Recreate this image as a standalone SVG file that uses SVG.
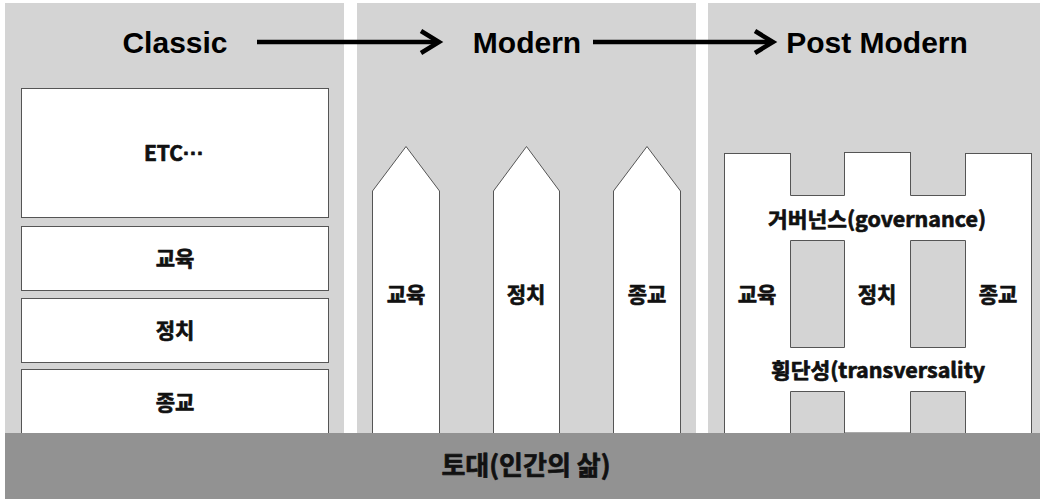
<svg xmlns="http://www.w3.org/2000/svg" width="1040" height="499" viewBox="0 0 1040 499">
<style>
.panel{fill:#d4d4d4}
.box{fill:#fff;stroke:#555;stroke-width:1}
.ko{font-family:"Noto Sans CJK KR","Noto Sans",sans-serif;font-weight:bold;fill:#111;stroke:#111;stroke-width:0.7;stroke-linejoin:round;text-anchor:middle;dominant-baseline:central}
.lbl{font-size:21px}
.title{font-family:"Liberation Sans",Arial,sans-serif;font-weight:bold;font-size:30px;fill:#000;text-anchor:middle}
.arrow{stroke:#000;stroke-width:4.5;fill:none}
.band{stroke:#555;stroke-width:1}
</style>
<rect x="0" y="0" width="1040" height="499" fill="#fff"/>
<g id="panels">
<rect class="panel" x="5" y="3" width="339" height="440"/>
<rect class="panel" x="357" y="3" width="339" height="440"/>
<rect class="panel" x="708" y="3" width="332" height="440"/>
</g>
<g id="titles">
<text class="title" x="175" y="53">Classic</text>
<text class="title" x="527" y="53">Modern</text>
<text class="title" x="877" y="53">Post Modern</text>
</g>
<g id="connectors">
<line class="arrow" x1="257" y1="42" x2="438" y2="42"/>
<polyline class="arrow" points="421,31 439,42 421,53" stroke-linejoin="miter"/>
<line class="arrow" x1="593" y1="42" x2="772" y2="42"/>
<polyline class="arrow" points="755,31 773,42 755,53" stroke-linejoin="miter"/>
</g>
<g id="classic">
<g id="c-etc"><rect class="box" x="21.5" y="88.5" width="307" height="129"/><text class="ko lbl" x="174" y="152">ETC<tspan font-family="Liberation Sans, sans-serif">···</tspan></text></g>
<g id="c-edu"><rect class="box" x="21.5" y="226.5" width="307" height="64"/><text class="ko lbl" x="175" y="257">교육</text></g>
<g id="c-pol"><rect class="box" x="21.5" y="298.5" width="307" height="64"/><text class="ko lbl" x="175" y="329">정치</text></g>
<g id="c-rel"><rect class="box" x="21.5" y="369.5" width="307" height="80"/><text class="ko lbl" x="175" y="401">종교</text></g>
</g>
<g id="modern">
<g id="m-edu"><polygon class="box" points="372.5,450 372.5,191 406,146.5 439.5,191 439.5,450"/><text class="ko lbl" x="406" y="293">교육</text></g>
<g id="m-pol"><polygon class="box" points="493.5,450 493.5,191 526.5,146.5 559.5,191 559.5,450"/><text class="ko lbl" x="526" y="293">정치</text></g>
<g id="m-rel"><polygon class="box" points="613.5,450 613.5,191 647,146.5 680.5,191 680.5,450"/><text class="ko lbl" x="647" y="293">종교</text></g>
</g>
<g id="postmodern">
<g id="p-edu"><rect class="box" x="724.5" y="153.5" width="66" height="300"/><text class="ko lbl" x="757" y="293">교육</text></g>
<g id="p-pol"><rect class="box" x="844.5" y="152.5" width="66" height="280.5"/><text class="ko lbl" x="877" y="293">정치</text></g>
<g id="p-rel"><rect class="box" x="965.5" y="153.5" width="66" height="300"/><text class="ko lbl" x="998" y="293">종교</text></g>
<g id="p-gov">
<rect x="790" y="195.5" width="176" height="45" fill="#fff"/>
<path class="band" d="M790.5,195.5H844.5M910.5,195.5H965.5M790.5,240.5H844.5M910.5,240.5H965.5"/>
<text class="ko" x="877" y="218" font-size="21" textLength="218" lengthAdjust="spacingAndGlyphs">거버넌스(governance)</text>
</g>
<g id="p-trans">
<rect x="790" y="347.5" width="176" height="44" fill="#fff"/>
<path class="band" d="M790.5,347.5H844.5M910.5,347.5H965.5M790.5,391.5H844.5M910.5,391.5H965.5"/>
<text class="ko" x="878" y="369" font-size="21" textLength="214" lengthAdjust="spacingAndGlyphs">횡단성(transversality</text>
</g>
</g>
<g id="base">
<rect x="5" y="433" width="1035" height="66" fill="#929292"/>
<text class="ko" x="526" y="463" font-size="26">토대(인간의 삶)</text>
</g>
</svg>
